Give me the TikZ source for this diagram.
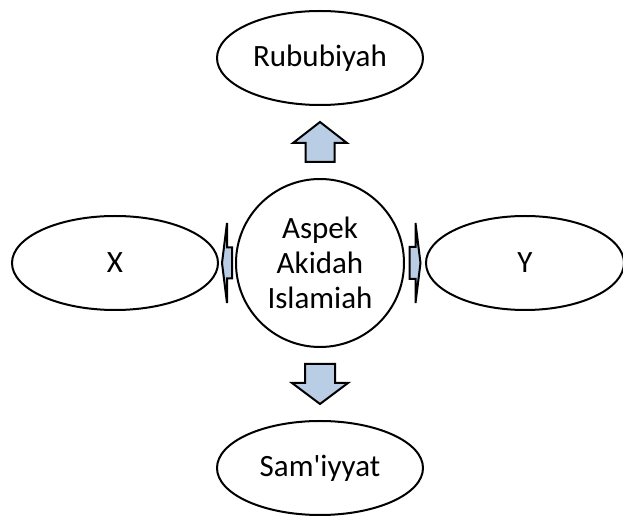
\documentclass[tikz,border=0pt]{standalone}
\usepackage{fontspec}
\setmainfont{Carlito}
\usetikzlibrary{shapes.geometric, positioning, calc}

\definecolor{arrowblue}{RGB}{185,205,229}

% block arrow: centre, angle, length, head length, head width, shaft width
\newcommand{\blockarrow}[6]{%
  \draw[blockarrow, shift={(#1)}, rotate=#2]
    ({-#3/2},{-#6/2}) -- ({#3/2-#4},{-#6/2}) -- ({#3/2-#4},{-#5/2}) -- ({#3/2},0)
    -- ({#3/2-#4},{#5/2}) -- ({#3/2-#4},{#6/2}) -- ({-#3/2},{#6/2}) -- cycle;
}

\begin{document}
\begin{tikzpicture}[x=0.5pt, y=-0.5pt, font=\fontsize{15.5}{17.5}\selectfont]
\tikzstyle{aspect}=[ellipse, draw=black, line width=1pt, minimum width=103pt, minimum height=47pt, inner sep=0pt, outer sep=0pt]
\tikzstyle{core}=[circle, draw=black, line width=1pt, minimum size=84pt, inner sep=0pt, outer sep=0pt, align=center]
\tikzstyle{blockarrow}=[draw=black, line width=1pt, fill=arrowblue]

\useasboundingbox (0,0) rectangle (623,518);

\node (aspek) [core] at (320,263) {Aspek\\Akidah\\Islamiah};
\node (rububiyah) [aspect, above=37pt of aspek] {Rububiyah};
\node (samiyyat) [aspect, below=37pt of aspek] {Sam\textquotesingle iyyat};
\node (x) [aspect, left=9pt of aspek] {X};
\node (y) [aspect, minimum width=99pt, right=11pt of aspek] {Y};

\coordinate (upmid) at ($(rububiyah.south)!0.5!(aspek.north)$);
\coordinate (downmid) at ($(samiyyat.north)!0.5!(aspek.south)$);
\coordinate (leftmid) at ($(x.east)!0.5!(aspek.west)$);
\coordinate (rightmid) at ($(y.west)!0.5!(aspek.east)$);

\blockarrow{upmid}{90}{40}{21}{54}{29}
\blockarrow{downmid}{-90}{40}{21}{56}{30}
\blockarrow{leftmid}{180}{10}{5}{80}{31}
\blockarrow{rightmid}{0}{11}{5}{80}{32}

\end{tikzpicture}
\end{document}
